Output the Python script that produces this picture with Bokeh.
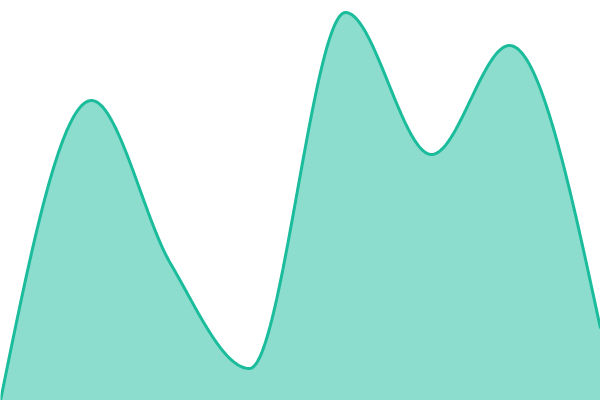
import numpy as np
from bokeh.plotting import figure
from bokeh.embed import file_html
from bokeh.resources import INLINE

# data (time position, value)
x_vals = [0, 91, 170, 249, 345, 431, 509, 600]
y_vals = [0, 300, 137, 32, 388, 246, 355, 72]

LINE = "#1abc9c"


def monotone_x(xs, ys, n=60):
    """Monotone cubic interpolation (like d3.curveMonotoneX) for rendering."""
    xs = np.asarray(xs, float)
    ys = np.asarray(ys, float)
    h = np.diff(xs)
    s = np.diff(ys) / h
    m = np.zeros(len(xs))
    for i in range(1, len(xs) - 1):
        p = (s[i - 1] * h[i] + s[i] * h[i - 1]) / (h[i - 1] + h[i])
        m[i] = (np.sign(s[i - 1]) + np.sign(s[i])) * min(abs(s[i - 1]), abs(s[i]), 0.5 * abs(p))
    m[0] = (3 * s[0] - m[1]) / 2
    m[-1] = (3 * s[-1] - m[-2]) / 2
    out_x, out_y = [], []
    for i in range(len(xs) - 1):
        t = np.linspace(0, 1, n, endpoint=(i == len(xs) - 2))
        h00 = 2 * t**3 - 3 * t**2 + 1
        h10 = t**3 - 2 * t**2 + t
        h01 = -2 * t**3 + 3 * t**2
        h11 = t**3 - t**2
        out_x.extend(xs[i] + t * h[i])
        out_y.extend(h00 * ys[i] + h10 * h[i] * m[i] + h01 * ys[i + 1] + h11 * h[i] * m[i + 1])
    return np.array(out_x), np.array(out_y)


cx, cy = monotone_x(x_vals, y_vals)

p = figure(width=600, height=400, output_backend="svg", toolbar_location=None,
           x_range=(0, 600), y_range=(0, 400), min_border=0)
p.axis.visible = False
p.grid.visible = False
p.outline_line_color = None
p.background_fill_color = "white"
p.border_fill_color = "white"

p.varea(x=cx, y1=0, y2=cy, fill_color=LINE, fill_alpha=0.5)
p.line(cx, cy, line_color=LINE, line_width=3)

open("out.html", "w").write(file_html(p, INLINE))
